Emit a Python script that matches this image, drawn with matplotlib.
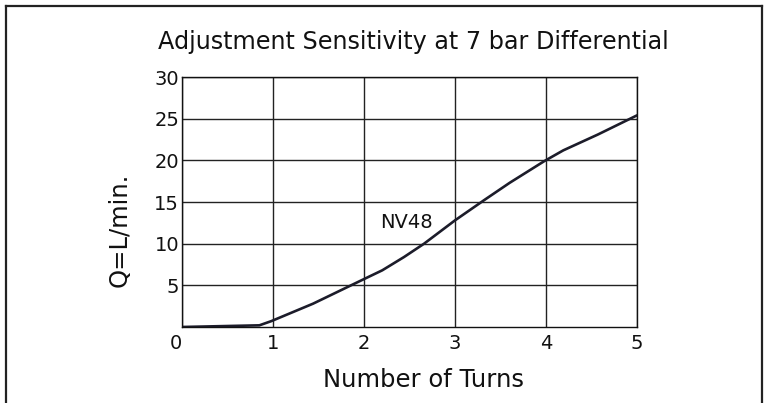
import matplotlib.pyplot as plt
from matplotlib.lines import Line2D

plt.rcParams['font.family'] = ['Liberation Sans Narrow', 'DejaVu Sans']

# Kurva NV48
turns = [0.0, 0.85, 0.98, 1.44, 1.99, 2.2, 2.44, 2.66, 3.0, 3.33, 3.6, 3.98, 4.19, 4.57, 5.0]
flow = [0.0, 0.2, 0.7, 2.8, 5.7, 6.8, 8.4, 10.0, 12.8, 15.3, 17.3, 19.9, 21.2, 23.1, 25.4]

x_ticks = [0, 1, 2, 3, 4, 5]
y_ticks = [5, 10, 15, 20, 25, 30]

fig = plt.figure(figsize=(7.69, 4.03), dpi=100)
ax = fig.add_axes([0.2367, 0.1886, 0.5917, 0.6203])

ax.plot(turns, flow, color='#1c1c2a', lw=1.9, solid_capstyle='round')
ax.set_xlim(0, 5)
ax.set_ylim(0, 30)
ax.set_xticks(x_ticks)
ax.set_yticks(y_ticks)
ax.set_xticklabels([str(t) for t in x_ticks])
ax.set_yticklabels([str(t) for t in y_ticks])
ax.tick_params(length=0, labelsize=14, pad=2, colors='#111111')
ax.tick_params(axis='x', pad=5)
ax.get_xticklabels()[0].set_ha('right')
ax.grid(True, color='#222222', lw=1.0)
for s in ax.spines.values():
    s.set_color('#111111')
    s.set_linewidth(1.0)

ax.text(2.47, 12.6, 'NV48', fontsize=14, ha='center', va='center', color='#111111')

fig.text(0.537, 0.896, 'Adjustment Sensitivity at 7 bar Differential',
         fontsize=17.2, ha='center', va='center', color='#111111')
fig.text(0.551, 0.057, 'Number of Turns', fontsize=17.5, ha='center', va='center', color='#111111')
fig.text(0.156, 0.429, 'Q=L/min.', fontsize=17.5, ha='center', va='center', rotation=90, color='#111111')

# ramka
fig.add_artist(Line2D([0.0078, 0.0078], [0, 0.985], transform=fig.transFigure, color='#222222', lw=1.6))
fig.add_artist(Line2D([0.0078, 0.991], [0.985, 0.985], transform=fig.transFigure, color='#222222', lw=1.6))
fig.add_artist(Line2D([0.991, 0.991], [0, 0.985], transform=fig.transFigure, color='#222222', lw=1.6))

fig.savefig('out.png', dpi=100)
